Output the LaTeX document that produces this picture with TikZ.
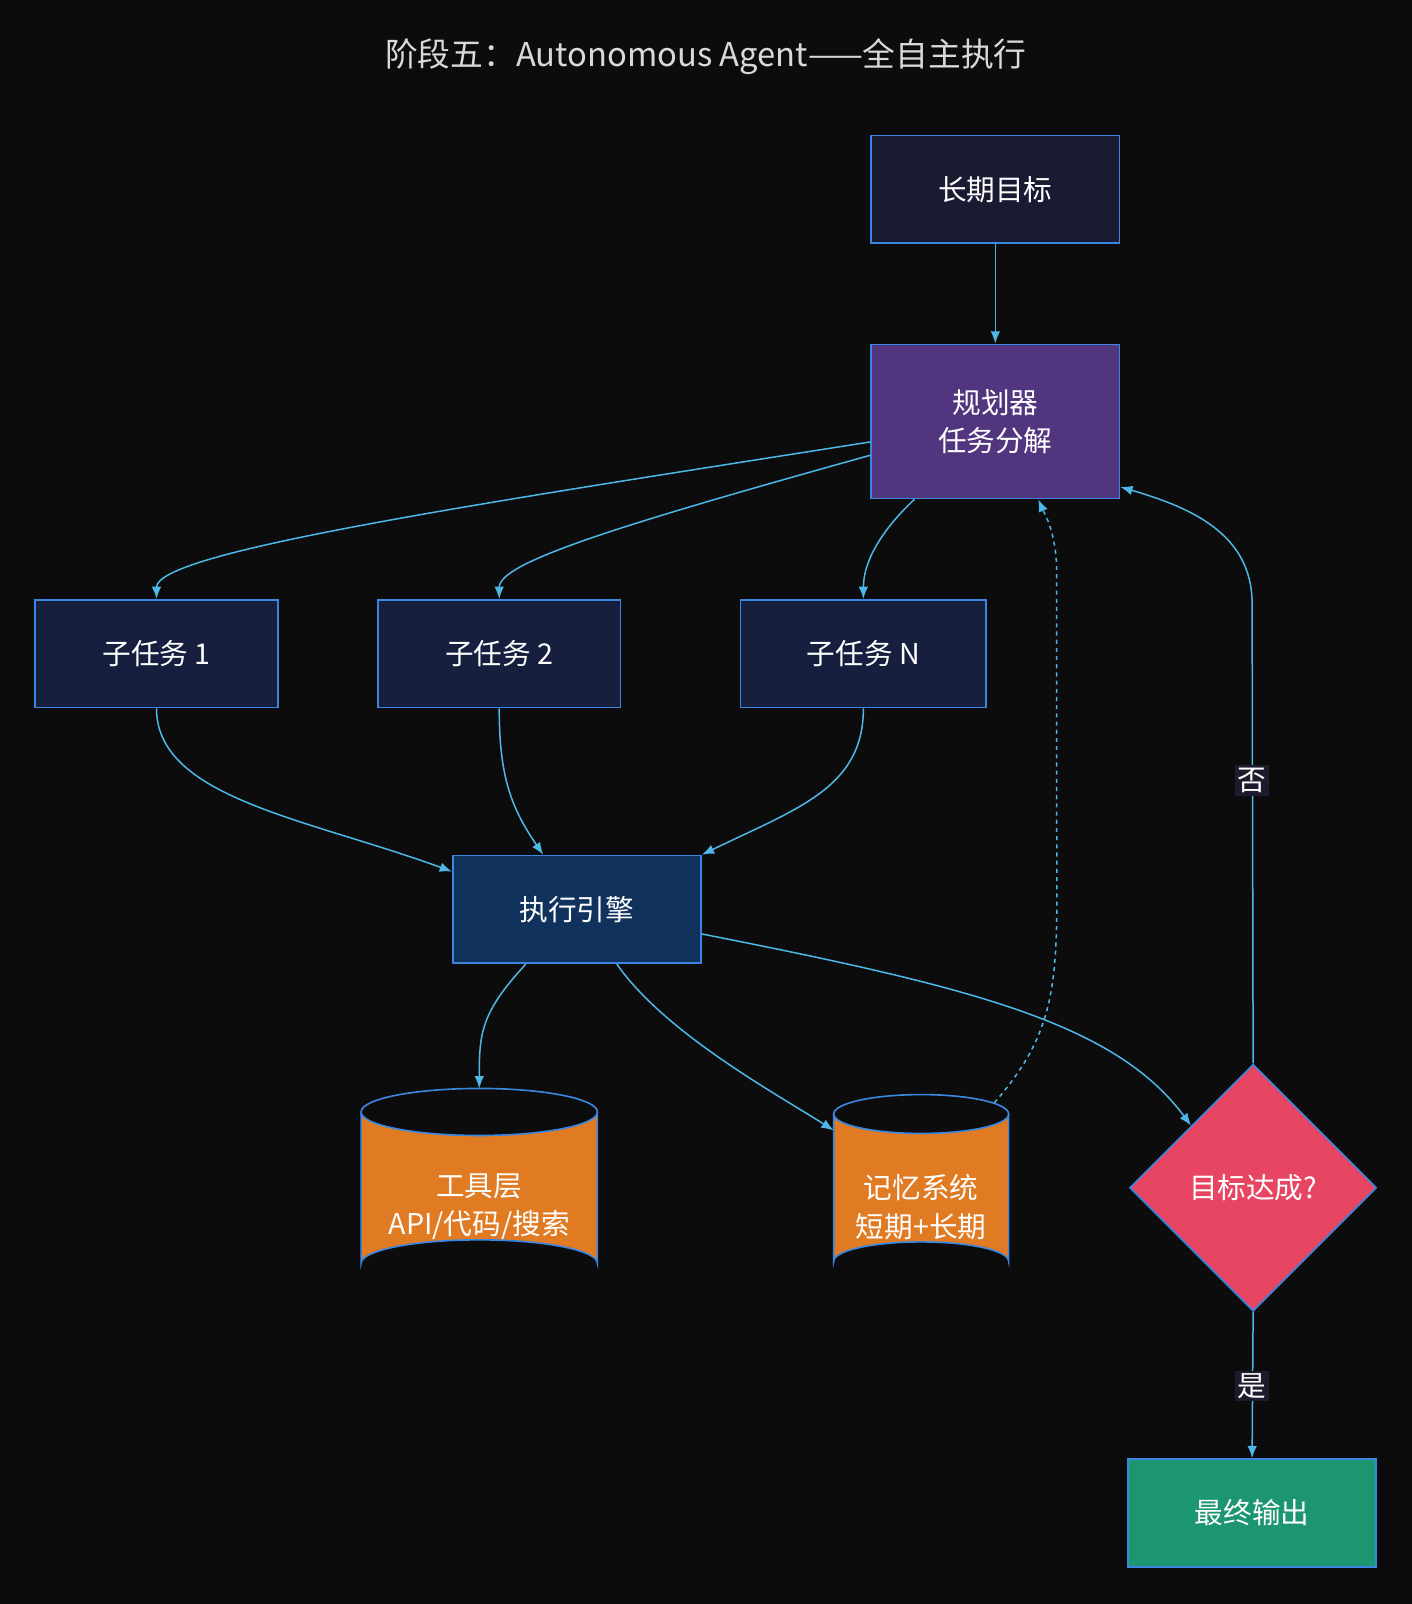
\documentclass[tikz,border=0pt]{standalone}
\usepackage{fontspec}
\setmainfont{Noto Sans CJK SC}
\usetikzlibrary{calc,arrows.meta,shapes.geometric}
\definecolor{bg}{HTML}{0C0C0C}
\definecolor{edge}{HTML}{4DB8E8}
\definecolor{bd}{HTML}{3A86E0}
\definecolor{cgoal}{HTML}{1A1B33}
\definecolor{cplan}{HTML}{52357F}
\definecolor{csub}{HTML}{161F3D}
\definecolor{cex}{HTML}{10325C}
\definecolor{corange}{HTML}{E07B24}
\definecolor{cdec}{HTML}{E84562}
\definecolor{cout}{HTML}{1B9670}
\definecolor{clab}{HTML}{1C1C2E}
\begin{document}
\begin{tikzpicture}[x=0.75pt,y=-0.75pt,
  box/.style={draw=bd,line width=1.2pt,text=white,font=\fontsize{21}{28}\selectfont,align=center,inner sep=0pt},
  ar/.style={draw=edge,line width=1.1pt,-{Latex[length=9pt,width=7pt]}},
  lab/.style={fill=clab,text=white,font=\fontsize{21}{24}\selectfont,inner sep=2pt}]
\fill[bg] (0,0) rectangle (1380,1568);
\useasboundingbox (0,0) rectangle (1380,1568);
\node[text=white!85!black,font=\fontsize{24}{28}\selectfont] (title) at (690,55) {阶段五：Autonomous Agent——全自主执行};
\node[box,fill=cgoal,minimum width=182pt,minimum height=79pt] (goal) at (973,185) {长期目标};
\node[box,fill=cplan,minimum width=182pt,minimum height=113pt] (plan) at (973,412) {规划器\\任务分解};
\node[box,fill=csub,minimum width=178pt,minimum height=79pt] (s1) at (153,639) {子任务 1};
\node[box,fill=csub,minimum width=178pt,minimum height=79pt] (s2) at (488,639) {子任务 2};
\node[box,fill=csub,minimum width=180pt,minimum height=79pt] (sn) at (844,639) {子任务 N};
\node[box,fill=cex,minimum width=182pt,minimum height=79pt] (ex) at (564,889) {执行引擎};
% cylinders
\fill[corange] (353,1087) -- (353,1235) arc[start angle=180,end angle=360,x radius=115.5,y radius=23] -- (584,1087) arc[start angle=0,end angle=180,x radius=115.5,y radius=23];
\draw[bd,line width=1.2pt] (353,1087) -- (353,1235) arc[start angle=180,end angle=360,x radius=115.5,y radius=23] -- (584,1087);
\draw[bd,line width=1.2pt] (468.5,1087) ellipse[x radius=115.5,y radius=23];
\node[box,draw=none,minimum width=170pt,minimum height=120pt] (tools) at (468.5,1180) {工具层\\API/代码/搜索};
\coordinate (toolstop) at (468.5,1064);
\fill[corange] (815,1089) -- (815,1233) arc[start angle=180,end angle=360,x radius=85.5,y radius=19] -- (986,1089) arc[start angle=0,end angle=180,x radius=85.5,y radius=19];
\draw[bd,line width=1.2pt] (815,1089) -- (815,1233) arc[start angle=180,end angle=360,x radius=85.5,y radius=19] -- (986,1089);
\draw[bd,line width=1.2pt] (900.5,1089) ellipse[x radius=85.5,y radius=19];
\node[box,draw=none,minimum width=128pt,minimum height=120pt] (mem) at (900.5,1180) {记忆系统\\短期+长期};
\node[box,fill=cdec,diamond,minimum width=181pt,minimum height=181pt] (dec) at (1225,1161) {目标达成?};
\node[box,fill=cout,minimum width=182pt,minimum height=79pt] (out) at (1224,1479) {最终输出};
% edges
\draw[ar] (goal) -- (plan);
\draw[ar] ($(plan.west)+(0,20)$) .. controls (450,495) and (153,540) .. (s1.north);
\draw[ar] ($(plan.west)+(0,33)$) .. controls (600,515) and (488,550) .. (s2.north);
\draw[ar] ($(plan.south west)+(43,0)$) .. controls (860,520) and (844,550) .. (sn.north);
\draw[ar] (s1.south) .. controls (153,780) and (300,800) .. ($(ex.west)+(0,-37)$);
\draw[ar] (s2.south) .. controls (488,760) and (500,790) .. ($(ex.north)+(-33,0)$);
\draw[ar] (sn.south) .. controls (844,770) and (780,790) .. (ex.north east);
\draw[ar] ($(ex.south)+(-50,0)$) .. controls (470,990) and (468.5,1010) .. (toolstop);
\draw[ar] ($(ex.south)+(39,0)$) .. controls (650,1010) and (760,1070) .. (815,1105);
\draw[ar] ($(ex.east)+(0,24)$) .. controls (950,965) and (1090,1000) .. (dec.north west);
\draw[ar,dash pattern=on 3pt off 3pt] (972,1078) .. controls (1040,1000) and (1033,950) .. (1033,800) -- (1033,560) .. controls (1033,520) and (1020,500) .. ($(plan.south)+(42,0)$);
\draw[ar] (dec.north) -- (1224,590) .. controls (1224,520) and (1160,495) .. ($(plan.east)+(0,64)$);
\draw[ar] (dec.south) -- (out.north);
\node[lab] (no) at (1224,763) {否};
\node[lab] (yes) at (1224,1355) {是};
\end{tikzpicture}
\end{document}
